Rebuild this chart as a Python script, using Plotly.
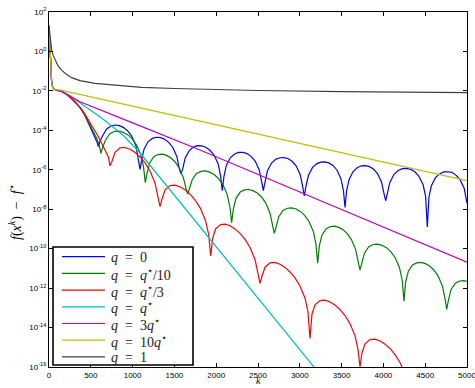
import numpy as np
import plotly.graph_objects as go

# ---------------- data (y given as log10 of f(x^k)-f*) ----------------
series_names = ["<i>q</i> = 0", "<i>q</i> = <i>q</i><sup>⋆</sup>/10", "<i>q</i> = <i>q</i><sup>⋆</sup>/3",
                "<i>q</i> = <i>q</i><sup>⋆</sup>", "<i>q</i> = 3<i>q</i><sup>⋆</sup>",
                "<i>q</i> = 10<i>q</i><sup>⋆</sup>", "<i>q</i> = 1"]
series_colors = ["#0000ff", "#007f00", "#ff0000", "#00bfbf", "#bf00bf", "#bfbf00", "#404040"]

blue_k = [0, 5, 10, 16, 22, 32, 45, 70, 100, 140, 200, 260, 320, 380, 430, 480, 520, 550, 575, 590,
          610, 640, 690, 740, 790, 840, 889, 939, 989, 1039, 1069, 1089,
          1109, 1138, 1187, 1236, 1285, 1334, 1383, 1432, 1481, 1530, 1559, 1579,
          1599, 1628, 1678, 1727, 1777, 1826, 1875, 1925, 1974, 2024, 2053, 2073,
          2093, 2122, 2171, 2220, 2269, 2318, 2368, 2417, 2466, 2515, 2544, 2564,
          2584, 2613, 2662, 2711, 2760, 2809, 2858, 2907, 2956, 3005, 3034, 3054,
          3073, 3103, 3151, 3200, 3249, 3298, 3346, 3395, 3444, 3492, 3522, 3541,
          3560, 3590, 3638, 3687, 3735, 3784, 3833, 3881, 3930, 3978, 4008, 4027,
          4047, 4077, 4127, 4176, 4226, 4276, 4326, 4376, 4425, 4475, 4505, 4525,
          4545, 4574, 4623, 4672, 4721, 4770, 4819, 4868, 4917, 4966, 5000]
blue_log = [1.3, 0.7, 0.1, -0.45, -1.1, -1.6, -1.82, -1.93, -1.97, -2.0, -2.15, -2.35, -2.6, -2.9, -3.25, -3.7, -4.05, -4.35, -4.6, -4.83,
            -4.55, -4.29, -3.93, -3.78, -3.73, -3.76, -3.85, -4.02, -4.29, -4.77, -5.39, -5.98,
            -5.49, -4.94, -4.57, -4.41, -4.35, -4.37, -4.45, -4.61, -4.87, -5.34, -5.95, -6.21,
            -5.97, -5.41, -5.03, -4.85, -4.78, -4.79, -4.86, -5.01, -5.25, -5.71, -6.32, -7.06,
            -6.33, -5.77, -5.38, -5.20, -5.12, -5.12, -5.18, -5.32, -5.56, -6.01, -6.61, -7.06,
            -6.62, -6.05, -5.66, -5.47, -5.39, -5.38, -5.43, -5.57, -5.80, -6.25, -6.84, -7.33,
            -6.85, -6.29, -5.89, -5.70, -5.61, -5.60, -5.65, -5.78, -6.01, -6.45, -7.05, -7.91,
            -7.06, -6.49, -6.09, -5.90, -5.80, -5.79, -5.84, -5.96, -6.19, -6.63, -7.22, -7.57,
            -7.21, -6.64, -6.23, -6.04, -5.94, -5.93, -5.98, -6.10, -6.33, -6.76, -7.35, -8.9,
            -7.38, -6.81, -6.40, -6.21, -6.11, -6.10, -6.13, -6.27, -6.50, -6.93, -7.70]

green_k = [0, 5, 10, 16, 22, 32, 45, 70, 100, 140, 200, 260, 320, 380, 430, 480, 530, 570, 600, 622,
           643, 675, 728, 781, 834, 887, 940, 993, 1046, 1099, 1131, 1152,
           1172, 1203, 1253, 1304, 1355, 1406, 1456, 1507, 1558, 1608, 1639, 1659,
           1680, 1712, 1764, 1817, 1869, 1922, 1975, 2027, 2080, 2132, 2164, 2185,
           2205, 2236, 2287, 2338, 2389, 2440, 2491, 2542, 2593, 2644, 2675, 2695,
           2716, 2747, 2799, 2851, 2903, 2955, 3006, 3058, 3110, 3162, 3193, 3214,
           3234, 3265, 3315, 3366, 3416, 3467, 3518, 3568, 3619, 3669, 3700, 3720,
           3741, 3773, 3825, 3878, 3930, 3983, 4036, 4088, 4141, 4193, 4225, 4246,
           4266, 4297, 4348, 4399, 4450, 4502, 4553, 4604, 4655, 4706, 4737, 4757,
           4778, 4809, 4860, 4912, 4963, 5000]
green_log = [1.3, 0.7, 0.1, -0.45, -1.1, -1.6, -1.82, -1.93, -1.97, -2.0, -2.15, -2.35, -2.6, -2.9, -3.22, -3.62, -4.0, -4.4, -4.75, -5.17,
             -4.85, -4.50, -4.17, -4.06, -4.04, -4.10, -4.22, -4.42, -4.73, -5.24, -5.87, -6.65,
             -6.20, -5.67, -5.34, -5.23, -5.21, -5.27, -5.39, -5.59, -5.90, -6.41, -6.95, -7.23,
             -6.95, -6.52, -6.19, -6.08, -6.06, -6.12, -6.24, -6.44, -6.75, -7.26, -7.89, -8.68,
             -7.99, -7.46, -7.13, -7.02, -7.00, -7.06, -7.18, -7.38, -7.69, -8.20, -8.83, -9.22,
             -8.92, -8.39, -8.06, -7.95, -7.93, -7.99, -8.11, -8.31, -8.62, -9.13, -9.76, -10.74,
             -9.85, -9.32, -8.99, -8.88, -8.86, -8.92, -9.04, -9.24, -9.55, -10.06, -10.69, -11.08,
             -10.76, -10.23, -9.90, -9.79, -9.77, -9.83, -9.95, -10.15, -10.46, -10.97, -11.60, -12.66,
             -11.69, -11.16, -10.83, -10.72, -10.70, -10.76, -10.88, -11.08, -11.39, -11.90, -12.53, -13.08,
             -12.61, -12.08, -11.75, -11.64, -11.62, -11.66]

red_k = [0, 5, 10, 16, 22, 32, 45, 70, 100, 140, 200, 260, 320, 380, 430, 480, 530, 580, 630, 680, 710, 730,
         754, 790, 850, 909, 969, 1029, 1089, 1149, 1208, 1268, 1304, 1328,
         1352, 1389, 1449, 1510, 1570, 1631, 1692, 1752, 1813, 1873, 1910, 1934,
         1958, 1993, 2052, 2111, 2170, 2229, 2288, 2347, 2406, 2465, 2500, 2524,
         2548, 2584, 2644, 2703, 2763, 2823, 2883, 2943, 3002, 3062, 3098, 3122,
         3146, 3182, 3242, 3301, 3361, 3421, 3481, 3541, 3600, 3660, 3696, 3720,
         3744, 3780, 3840, 3900, 3960, 4020, 4080, 4140, 4200, 4260]
red_log = [1.3, 0.7, 0.1, -0.45, -1.1, -1.6, -1.82, -1.93, -1.97, -2.0, -2.15, -2.35, -2.6, -2.88, -3.18, -3.52, -3.88, -4.25, -4.65, -5.05, -5.35, -5.8,
           -5.57, -5.11, -4.89, -4.87, -4.96, -5.12, -5.35, -5.65, -6.06, -6.67, -7.37, -7.87,
           -7.48, -7.02, -6.80, -6.78, -6.87, -7.03, -7.26, -7.56, -7.97, -8.58, -9.28, -10.37,
           -9.46, -9.00, -8.78, -8.76, -8.85, -9.01, -9.24, -9.54, -9.95, -10.56, -11.26, -11.76,
           -11.40, -10.94, -10.72, -10.70, -10.79, -10.95, -11.18, -11.48, -11.89, -12.50, -13.20, -14.55,
           -13.31, -12.85, -12.63, -12.61, -12.70, -12.86, -13.09, -13.39, -13.80, -14.41, -15.11, -15.99,
           -15.29, -14.83, -14.61, -14.59, -14.68, -14.84, -15.07, -15.37, -15.78, -16.39]

cyan_k = [0, 5, 10, 16, 22, 32, 45, 70, 100, 140, 250, 370, 490, 620, 750, 900, 1089, 1300, 1687, 2200, 2700, 3200]
cyan_log = [1.3, 0.7, 0.1, -0.45, -1.1, -1.6, -1.82, -1.93, -1.97, -2.0, -2.25, -2.6, -2.97, -3.35, -3.78, -4.3,
            -5.15, -6.25, -8.29, -10.98, -13.6, -16.16]

magenta_k = [0, 5, 10, 16, 22, 32, 45, 70, 100, 140, 200, 371, 1000, 1806, 3000, 4000, 5000]
magenta_log = [1.3, 0.7, 0.1, -0.45, -1.1, -1.6, -1.82, -1.93, -1.97, -2.0, -2.13, -2.55, -3.62, -5.0, -7.13, -8.91, -10.69]

yellow_k = [0, 5, 10, 16, 22, 32, 45, 70, 100, 140, 300, 1000, 2000, 3000, 4000, 5000]
yellow_log = [1.3, 0.7, 0.1, -0.45, -1.1, -1.6, -1.82, -1.92, -1.94, -1.96, -2.11, -2.77, -3.72, -4.66, -5.60, -6.55]

gray_k = [0, 5, 10, 20, 32, 50, 75, 110, 150, 200, 270, 370, 550, 800, 1109, 1500, 1806, 2500, 3500, 5000]
gray_log = [1.3, 1.05, 0.8, 0.45, 0.07, -0.2, -0.47, -0.75, -0.95, -1.13, -1.33, -1.48, -1.62, -1.72,
            -1.82, -1.88, -1.92, -1.98, -2.04, -2.09]

x_ticks = [0, 500, 1000, 1500, 2000, 2500, 3000, 3500, 4000, 4500, 5000]
y_tick_exps = [2, 0, -2, -4, -6, -8, -10, -12, -14, -16]

# ---------------- geometry helpers (pixel -> paper) ----------------
PL, PR, PT, PB = 49, 467, 12, 367
def px_x(p):
    return (p - PL) / float(PR - PL)
def px_y(p):
    return (PB - p) / float(PB - PT)

SERIF = "Liberation Serif, Times New Roman, serif"

# ---------------- figure ----------------
all_k = [blue_k, green_k, red_k, cyan_k, magenta_k, yellow_k, gray_k]
all_log = [blue_log, green_log, red_log, cyan_log, magenta_log, yellow_log, gray_log]

fig = go.Figure()
for name, col, ks, lv in zip(series_names, series_colors, all_k, all_log):
    fig.add_trace(go.Scatter(x=ks, y=10.0 ** np.array(lv), mode="lines", name=name,
                             line=dict(color=col, width=1.2), showlegend=False))

axis_common = dict(showline=True, linecolor="black", linewidth=1.3, mirror="allticks",
                   ticks="inside", ticklen=4, tickcolor="black", tickwidth=1,
                   showgrid=False, zeroline=False, automargin=False, ticklabeloverflow="allow",
                   tickfont=dict(family="Liberation Sans, Arial, sans-serif", size=8, color="black"))

fig.update_xaxes(range=[0, 5000], tickvals=x_ticks, ticktext=[str(v) for v in x_ticks], **axis_common)
fig.update_yaxes(type="log", range=[-16, 2], tickvals=[10.0 ** e for e in y_tick_exps],
                 ticktext=["10<sup>%d</sup>" % e for e in y_tick_exps], **axis_common)

# legend drawn as a boxed key (white box, line samples and labels)
shapes = [dict(type="rect", xref="paper", yref="paper", x0=px_x(53), x1=px_x(193), y0=px_y(365), y1=px_y(247),
               fillcolor="white", line=dict(color="black", width=1.6), layer="above")]
annotations = []
for i, (name, col) in enumerate(zip(series_names, series_colors)):
    yy = 256.7 + 16.7 * i
    shapes.append(dict(type="line", xref="paper", yref="paper", x0=px_x(62), x1=px_x(105),
                       y0=px_y(yy), y1=px_y(yy), line=dict(color=col, width=1.2), layer="above"))
    annotations.append(dict(text=name.replace(" = ", " &nbsp;=&nbsp; "), x=px_x(109), y=px_y(yy + 0.5),
                            xref="paper", yref="paper", xanchor="left", yanchor="middle", showarrow=False,
                            font=dict(family=SERIF, size=14, color="#222")))

annotations.append(dict(text="<i>f</i>(<i>x</i><sup><i>k</i></sup>) &nbsp;−&nbsp; <i>f</i><sup>⋆</sup>",
                        x=px_x(15), y=px_y(212), xref="paper", yref="paper", showarrow=False,
                        textangle=-90, xanchor="center", yanchor="middle",
                        font=dict(family=SERIF, size=14, color="black")))
annotations.append(dict(text="<i>k</i>", x=px_x(258), y=px_y(388), xref="paper", yref="paper",
                        showarrow=False, xanchor="center", yanchor="bottom",
                        font=dict(family=SERIF, size=10, color="black")))

fig.update_layout(
    width=475, height=388,
    margin=dict(l=PL, r=475 - PR, t=PT, b=388 - PB, autoexpand=False),
    paper_bgcolor="white", plot_bgcolor="white",
    showlegend=False,
    shapes=shapes,
    annotations=annotations,
)

fig.write_html("out.html")
